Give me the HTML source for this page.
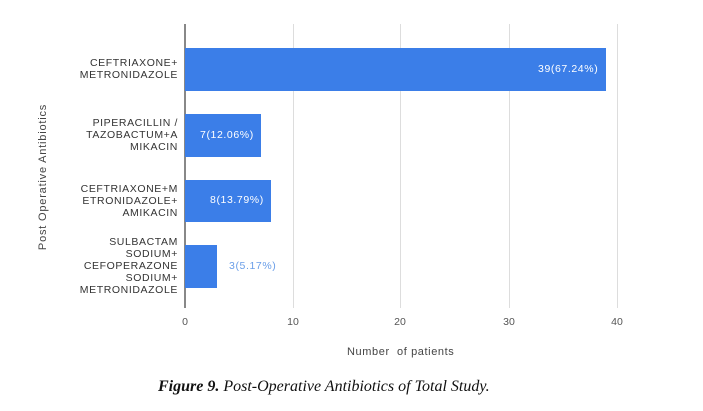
<!DOCTYPE html>
<html><head><style>
body{margin:0;width:703px;height:411px;background:#fff;position:relative;overflow:hidden;font-family:"Liberation Sans",sans-serif}
.a{position:absolute}
.lab{position:absolute;right:525px;text-align:right;font-size:10.5px;letter-spacing:0.6px;line-height:12px;color:#333}
.bar{position:absolute;left:185px;background:#3b7ee8}
.v{position:absolute;font-size:10.5px;letter-spacing:0.6px;color:#fff}
.t{position:absolute;font-size:10.5px;color:#555;width:30px;text-align:center;top:316px}
.g{position:absolute;top:24px;height:284px;width:1px;background:#ddd}
</style></head><body>
<div class="g" style="left:293px"></div>
<div class="g" style="left:400px"></div>
<div class="g" style="left:509px"></div>
<div class="g" style="left:617px"></div>
<div class="a" style="left:184px;top:24px;width:2px;height:284px;background:#888"></div>
<div class="bar" style="top:48px;width:421px;height:43px"></div>
<div class="bar" style="top:114px;width:76px;height:43px"></div>
<div class="bar" style="top:180px;width:86px;height:42px"></div>
<div class="bar" style="top:245px;width:32px;height:43px"></div>
<div class="v" style="left:538px;top:63px">39(67.24%)</div>
<div class="v" style="left:200px;top:129px">7(12.06%)</div>
<div class="v" style="left:210px;top:194px">8(13.79%)</div>
<div class="v" style="left:229px;top:260px;color:#6a9ee8">3(5.17%)</div>
<div class="lab" style="top:57px">CEFTRIAXONE+<br>METRONIDAZOLE</div>
<div class="lab" style="top:117px">PIPERACILLIN /<br>TAZOBACTUM+A<br>MIKACIN</div>
<div class="lab" style="top:183px">CEFTRIAXONE+M<br>ETRONIDAZOLE+<br>AMIKACIN</div>
<div class="lab" style="top:236px">SULBACTAM<br>SODIUM+<br>CEFOPERAZONE<br>SODIUM+<br>METRONIDAZOLE</div>
<div class="t" style="left:170px">0</div>
<div class="t" style="left:278px">10</div>
<div class="t" style="left:385px">20</div>
<div class="t" style="left:494px">30</div>
<div class="t" style="left:602px">40</div>
<div class="a" style="left:347px;top:346px;font-size:11px;letter-spacing:0.6px;color:#444;white-space:pre">Number  of patients</div>
<div class="a" style="left:43px;top:177px;transform:translate(-50%,-50%) rotate(-90deg);font-size:11px;letter-spacing:0.8px;color:#444;white-space:nowrap">Post Operative Antibiotics</div>
<div class="a" style="left:158px;top:378px;font-family:'Liberation Serif',serif;font-style:italic;font-size:16px;color:#111;white-space:nowrap"><b>Figure 9.</b> Post-Operative Antibiotics of Total Study.</div>
</body></html>
